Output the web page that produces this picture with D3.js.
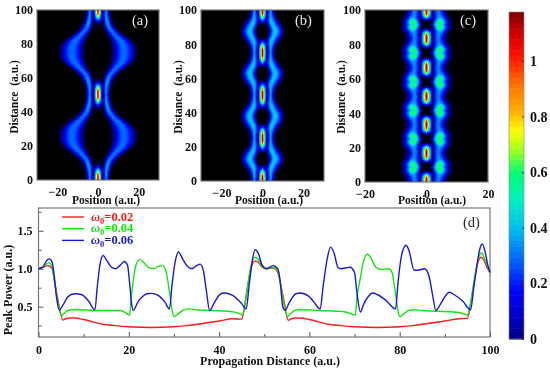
<!DOCTYPE html>
<html><head><meta charset="utf-8">
<script src="https://cdn.jsdelivr.net/npm/d3@7/dist/d3.min.js"></script>
<style>
html,body{margin:0;padding:0;background:#fff}
#wrap{position:relative;width:550px;height:370px;overflow:hidden}
canvas,svg{position:absolute;left:0;top:0}
text{font-family:"Liberation Serif",serif;font-weight:bold;fill:#111}
</style></head><body><div id="wrap"><canvas id="c" width="550" height="370"></canvas><svg id="s" width="550" height="370"></svg></div>
<script>
// ---------- heat map profiles: one half period, rows = distance from nearest focus, columns = |position|
const peaksA=[1,50.5,100];
const rowsA=[0,2,4,6,8,10,12,14,16,18,20,22,24.75];
const colsA=[0,1,2,3,4,5,6,7,8,9,10,11,12,13,14,15,16,17,18,19,20];
const heatA=[
[1.15,.62,.03,.12,.33,.12,.02,0,0,0,0,0,0,0,0,0,0,0,0,0,0],
[1.10,.58,.03,.14,.35,.14,.02,0,0,0,0,0,0,0,0,0,0,0,0,0,0],
[.75,.38,.03,.15,.36,.18,.03,0,0,0,0,0,0,0,0,0,0,0,0,0,0],
[.25,.13,.02,.10,.36,.28,.07,.01,0,0,0,0,0,0,0,0,0,0,0,0,0],
[.06,.04,.01,.05,.28,.36,.16,.04,.01,0,0,0,0,0,0,0,0,0,0,0,0],
[.01,.01,0,.02,.16,.34,.28,.12,.04,.01,0,0,0,0,0,0,0,0,0,0,0],
[0,0,0,.01,.06,.18,.31,.30,.16,.06,.02,0,0,0,0,0,0,0,0,0,0],
[0,0,0,0,.01,.05,.14,.27,.31,.24,.13,.05,.02,0,0,0,0,0,0,0,0],
[0,0,0,0,0,.01,.05,.13,.22,.29,.30,.24,.14,.07,.03,.01,0,0,0,0,0],
[0,0,0,0,0,0,.02,.06,.13,.20,.26,.29,.28,.22,.14,.08,.03,.01,0,0,0],
[0,0,0,0,0,0,.01,.04,.09,.15,.21,.26,.28,.27,.22,.16,.10,.05,.02,.01,0],
[0,0,0,0,0,0,.01,.03,.07,.12,.18,.23,.27,.28,.25,.20,.14,.09,.05,.02,.01],
[0,0,0,0,0,0,.01,.03,.06,.11,.17,.22,.26,.27,.26,.21,.15,.10,.05,.02,.01]];

const peaksB=[1,25,50.3,75,100];
const rowsB=[0,2,4,6,8,10,12.5];
const colsB=[0,1,2,3,4,5,6,7,8,9,10,11];
const heatB=[
[1.15,.62,.05,.17,.35,.12,.02,0,0,0,0,0],
[1.10,.58,.05,.18,.38,.16,.03,0,0,0,0,0],
[.80,.40,.05,.22,.40,.24,.06,.01,0,0,0,0],
[.30,.15,.06,.24,.42,.36,.16,.06,.02,0,0,0],
[.03,.03,.04,.16,.38,.44,.32,.16,.08,.03,.01,0],
[0,0,0,.05,.22,.40,.42,.32,.18,.08,.02,0],
[0,0,0,.02,.12,.32,.44,.40,.26,.14,.05,.01]];

const peaksC=[0.5,16.7,33.3,49.8,66.5,83.5,99.5];
const rowsC=[0,1,2,3,4,5,6,7,8.4];
const colsC=[0,1,2,3,4,5,6,7,8,9];
const heatC=[
[1.15,.50,.02,.22,.32,.14,.05,.02,0,0],
[1.12,.48,.02,.22,.34,.17,.06,.02,0,0],
[1.05,.44,.02,.20,.35,.20,.07,.02,0,0],
[.85,.36,.03,.20,.36,.26,.10,.03,0,0],
[.45,.22,.04,.20,.38,.34,.14,.05,.01,0],
[.15,.07,.03,.24,.48,.46,.20,.08,.02,0],
[.03,.02,.04,.32,.60,.58,.28,.10,.03,0],
[0,0,.05,.40,.65,.58,.30,.10,.03,0],
[0,.01,.14,.46,.56,.45,.22,.08,.02,0]];

// ---------- colour bar
const barStops=[0,.04,.17,.28,.40,.50,.60,.68,.75,.82,.92,1.02,1.10,1.176];
const barColors=["#00007a","#0000a8","#0000ff","#0060ff","#00c0ef","#00f0c0","#00ff70","#a0ff20","#ffff00","#ffb000","#ff7000","#ff1000","#d00000","#800000"];
const barTicks=[0,.2,.4,.6,.8,1];
const heatStops=[0,.02,.05,.09,.14,.26,.40,.50,.60,.68,.75,.82,.92,1.02,1.10,1.176];
const heatColors=["#000000","#000020","#000070","#0000c0","#0000ff","#0060ff","#00c0ef","#00f0c0","#00ff70","#a0ff20","#ffff00","#ffb000","#ff7000","#ff1000","#d00000","#800000"];

// ---------- peak power curves
const redX=[0,1,2.1,3,3.5,4,4.6,5.4,6,7,8,10,12,14,17,20,25,30,33,36,40,43,45,45.5,46,46.6,47.3,47.9,48.6,49.5,50.5,52,53,53.6,54.3,55.3,56,57,58,60,62,64,67,70,75,80,83,86,90,93,95,95.6,96.3,97,98,98.6,99.3,100];
const redY=[1,1.02,1.04,1,.85,.68,.5,.325,.34,.35,.35,.33,.3,.27,.25,.235,.225,.235,.25,.275,.31,.34,.335,.45,.65,.85,1.05,1.1,1.09,1.02,1,1.01,.95,.8,.6,.32,.34,.35,.35,.33,.3,.27,.25,.235,.225,.235,.25,.275,.31,.34,.345,.5,.75,1,1.15,1.12,1.02,.95];
const greenX=[0,1,2.3,3,3.5,4,4.5,5.1,6,7,9,12,16,18,19,20.2,20.5,21,21.6,22.5,23.5,24.5,25.5,26.5,27.5,28.3,29,29.6,30,31,32,33,35,38,42,44,45.2,45.8,46.5,47,47.9,48.6,49.5,50.5,52,53,53.6,54.3,55.2,56,57.5,59,62,66,68,69,70.2,70.5,71.2,72,72.9,73.8,74.7,76,77.5,78.3,79,79.6,80,81,82,83,85,88,92,94,95,95.7,96.5,97.2,98.1,99,100];
const greenY=[1,1.02,1.08,1.03,.85,.65,.5,.38,.43,.46,.46,.45,.45,.45,.43,.39,.6,.85,1.05,1.12,1.07,1.01,1,1.03,1.04,.95,.7,.45,.37,.41,.45,.47,.46,.45,.44,.42,.39,.55,.85,1.02,1.15,1.13,1.03,1,1.02,.97,.8,.55,.37,.42,.46,.46,.45,.44,.43,.41,.39,.6,.85,1.1,1.19,1.12,1.02,.99,1,.95,.7,.45,.37,.41,.45,.46,.45,.44,.43,.41,.39,.55,.85,1.08,1.21,1.1,.95];
const blueX=[0,1,1.6,2.4,3,3.5,4,4.6,5.5,6.5,8,9.5,11,12.5,13,13.6,14.3,15,16,17,18,19,19.7,20.2,20.6,21,22,23,24,25,26.5,28,29,29.6,30.3,31,32,33,34,35,35.8,36.5,37.2,37.9,39,40,41,43,45,46,46.6,47.2,48,48.7,49.5,50.5,52,53,53.5,54.1,54.6,55.5,57,58,60,61,62.4,63,64,64.7,65.5,66.3,67,68,69,70,70.5,71.3,72,73,74,75,77,79.1,79.6,80.5,81.4,82,83.2,84,85.5,86.5,87.3,88,89,90,91,92,94,95.7,96.5,97,97.7,98.3,99,99.5,100];
const blueY=[1,1.02,1.09,1.13,1.09,.9,.62,.455,.53,.63,.67,.66,.58,.46,.75,1.05,1.175,1.12,1.03,1,1.04,1.095,1.05,.8,.55,.45,.56,.63,.67,.675,.65,.56,.47,.8,1.1,1.22,1.12,1.03,1,1.04,1.06,.98,.7,.45,.56,.65,.68,.65,.54,.47,.75,1.05,1.25,1.2,1.05,1,1.04,1,.85,.5,.45,.55,.67,.68,.63,.56,.47,.75,1.15,1.285,1.2,1.02,1,1.01,1.02,.95,.7,.43,.53,.63,.68,.66,.58,.47,.8,1.2,1.31,1.25,.98,.98,1,.9,.65,.45,.53,.63,.69,.66,.57,.46,.8,1,1.25,1.325,1.2,1.05,.95];

const xTicksPanel=[-20,0,20], yTicksPanel=[0,20,40,60,80,100];
const xTicksD=[0,20,40,60,80,100], xMinorD=[10,30,50,70,90];
const yTicksD=[.5,1,1.5], yMinorD=[.25,.75,1.25,1.75];
const legendNames=["=0.02","=0.04","=0.06"], lineColors=["#ff1a1a","#12e512","#1a1ad6"];

const svg=d3.select("#s"), ctx=document.getElementById("c").getContext("2d");
const frame="#777";
const heatColor=d3.scaleLinear().domain(heatStops).range(heatColors).clamp(true);
function lookup(cols,rows,m,ax,off){
  const bisect=(a,v)=>Math.min(a.length-2,Math.max(0,d3.bisectRight(a,v)-1));
  if(ax>=cols[cols.length-1])return 0;
  const i=bisect(cols,ax),j=bisect(rows,off);
  const tx=Math.min(1,(ax-cols[i])/(cols[i+1]-cols[i])),ty=Math.min(1,(off-rows[j])/(rows[j+1]-rows[j]));
  return (m[j][i]*(1-tx)+m[j][i+1]*tx)*(1-ty)+(m[j+1][i]*(1-tx)+m[j+1][i+1]*tx)*ty;
}
function panel(o){
  const x=d3.scaleLinear().domain(o.xd).range([o.l,o.r]);
  const y=d3.scaleLinear().domain([0,100]).range([o.b,o.t]);
  const img=ctx.createImageData(o.r-o.l,o.b-o.t);
  for(let py=o.t;py<o.b;py++)for(let px=o.l;px<o.r;px++){
    const ax=Math.abs(x.invert(px+.5)),d=y.invert(py+.5);
    const off=d3.min(o.peaks,p=>Math.abs(d-p));
    const c=d3.rgb(heatColor(lookup(o.cols,o.rows,o.m,ax,off)));
    const k=((py-o.t)*(o.r-o.l)+(px-o.l))*4;
    img.data[k]=c.r;img.data[k+1]=c.g;img.data[k+2]=c.b;img.data[k+3]=255;
  }
  ctx.putImageData(img,o.l,o.t);
  const ax=g=>g.call(s=>s.selectAll("text").style("font-size","12px"));
  svg.append("g").attr("transform",`translate(0,${o.b})`).call(d3.axisBottom(x).tickValues(xTicksPanel).tickFormat(d3.format("d")).tickSize(0).tickPadding(7)).call(ax).call(s=>s.select(".domain").remove());
  svg.append("g").attr("transform",`translate(${o.l},0)`).call(d3.axisLeft(y).tickValues(yTicksPanel).tickSize(0).tickPadding(4)).call(ax).call(s=>s.select(".domain").remove());
  svg.append("rect").attr("x",o.l).attr("y",o.t).attr("width",o.r-o.l).attr("height",o.b-o.t).attr("fill","none").attr("stroke",frame).attr("stroke-width",1.2);
  svg.append("text").attr("x",o.xt).attr("y",204).attr("text-anchor","middle").style("font-size","11.5px").text("Position (a.u.)");
  svg.append("text").attr("transform",`translate(${o.yt},97) rotate(-90)`).attr("text-anchor","middle").style("font-size","11.5px").attr("xml:space","preserve").text("Distance  (a.u.)");
  svg.append("text").attr("x",o.lx).attr("y",25).style("font-size","14.5px").style("font-weight","normal").style("fill","#e4e4e4").text(o.label);
}
panel({l:37,r:159,t:10,b:180,xd:[-30,30],peaks:peaksA,cols:colsA,rows:rowsA,m:heatA,xt:106,yt:18,lx:132,label:"(a)"});
panel({l:201,r:324,t:10,b:181,xd:[-30,30],peaks:peaksB,cols:colsB,rows:rowsB,m:heatB,xt:269,yt:182,lx:295,label:"(b)"});
panel({l:365,r:488,t:10,b:182,xd:[-20,20],peaks:peaksC,cols:colsC,rows:rowsC,m:heatC,xt:432,yt:345,lx:460,label:"(c)"});

// colour bar
const barY=d3.scaleLinear().domain([0,1.176]).range([339,12]);
const barColor=d3.scaleLinear().domain(barStops).range(barColors);
const steps=d3.range(0,1.176,0.0196);
svg.append("g").selectAll("rect").data(steps).join("rect").attr("x",509).attr("width",15)
  .attr("y",d=>barY(d+0.0196)).attr("height",d=>barY(d)-barY(d+0.0196)+.5).attr("fill",d=>barColor(d+0.0098));
svg.append("rect").attr("x",509).attr("y",12).attr("width",15).attr("height",327).attr("fill","none").attr("stroke","#888").attr("stroke-width",.6);
svg.append("g").attr("transform","translate(524,0)").call(d3.axisRight(barY).tickValues(barTicks).tickFormat(d=>d).tickSize(-2).tickPadding(6))
  .call(s=>s.select(".domain").remove()).call(s=>s.selectAll("text").style("font-size","14px")).call(s=>s.selectAll("line").attr("stroke","#333"));

// panel d
const X=d3.scaleLinear().domain([0,100]).range([38.5,490]);
const Y=d3.scaleLinear().domain([.1,1.8]).range([337,208]);
const axD=s=>{s.select(".domain").remove();s.selectAll("line").attr("stroke","#555").attr("stroke-width",1);s.selectAll("text").style("font-size","12px")};
svg.append("g").attr("transform","translate(0,337)").call(d3.axisBottom(X).tickValues(xTicksD).tickSize(-5).tickPadding(8)).call(axD);
svg.append("g").attr("transform","translate(0,337)").call(d3.axisBottom(X).tickValues(xMinorD).tickFormat("").tickSize(-3)).call(axD);
svg.append("g").attr("transform","translate(38.5,0)").call(d3.axisLeft(Y).tickValues(yTicksD).tickFormat(d3.format(".1f")).tickSize(-5).tickPadding(6)).call(axD);
svg.append("g").attr("transform","translate(38.5,0)").call(d3.axisLeft(Y).tickValues(yMinorD).tickFormat("").tickSize(-3)).call(axD);
svg.append("rect").attr("x",38.5).attr("y",208).attr("width",451.5).attr("height",129).attr("fill","none").attr("stroke",frame).attr("stroke-width",1.2);
const line=d3.line().curve(d3.curveMonotoneX).x(d=>X(d[0])).y(d=>Y(d[1]));
[[redX,redY],[greenX,greenY],[blueX,blueY]].forEach(([a,b],i)=>{
  svg.append("path").attr("d",line(a.map((v,k)=>[v,b[k]]))).attr("fill","none").attr("stroke",lineColors[i]).attr("stroke-width",1.4);
});
legendNames.forEach((n,i)=>{
  const yy=217+i*11.7;
  svg.append("line").attr("x1",62).attr("x2",84).attr("y1",yy).attr("y2",yy).attr("stroke",lineColors[i]).attr("stroke-width",1.4);
  const t=svg.append("text").attr("x",91).attr("y",yy+3.5).style("font-size","12.5px").style("fill",lineColors[i]);
  t.append("tspan").style("font-style","italic").style("fill",lineColors[i]).text("ω");
  t.append("tspan").attr("dy",3).style("font-size","8.5px").style("fill",lineColors[i]).text("0");
  t.append("tspan").attr("dy",-3).style("fill",lineColors[i]).text(n);
});
svg.append("text").attr("x",463).attr("y",227).style("font-size","14.5px").style("font-weight","normal").style("fill","#222").text("(d)");
svg.append("text").attr("x",270).attr("y",365).attr("text-anchor","middle").style("font-size","12px").text("Propagation Distance (a.u.)");
svg.append("text").attr("transform","translate(12,290) rotate(-90)").attr("text-anchor","middle").style("font-size","12px").text("Peak Power (a.u.)");
</script></body></html>
